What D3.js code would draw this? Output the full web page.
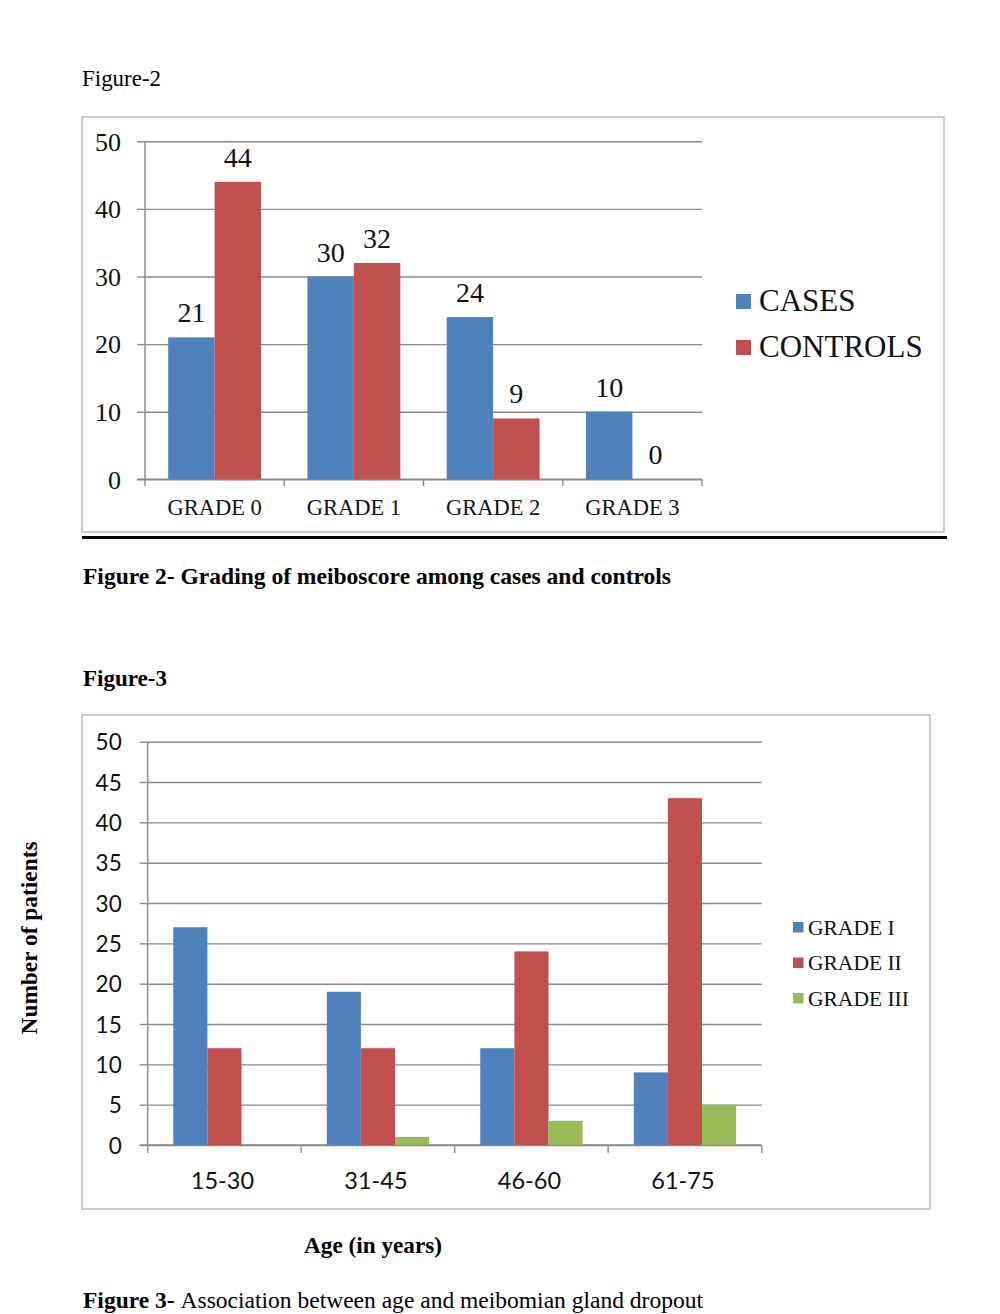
<!DOCTYPE html>
<html lang="en">
<head>
<meta charset="UTF-8">
<title>Figures 2 and 3</title>
<script src="https://d3js.org/d3.v7.min.js"></script>
<style>
    body { margin: 0; background: #fff; }
    .serif { font-family: "Liberation Serif", "Times New Roman", serif; }
    .sans { font-family: Lato, "Open Sans", sans-serif; }
</style>
</head>
<body>
<script>

    // figure 2 data
    var grades = ["GRADE 0", "GRADE 1", "GRADE 2", "GRADE 3"];
    var fig2Series = ["CASES", "CONTROLS"];
    var cases = [21, 30, 24, 10];
    var controls = [44, 32, 9, 0];
    var fig2Ticks = [0, 10, 20, 30, 40, 50];

    // figure 3 data
    var ageGroups = ["15-30", "31-45", "46-60", "61-75"];
    var fig3Series = ["GRADE I", "GRADE II", "GRADE III"];
    var gradeI = [27, 19, 12, 9];
    var gradeII = [12, 12, 24, 43];
    var gradeIII = [0, 1, 3, 5];
    var fig3Ticks = [0, 5, 10, 15, 20, 25, 30, 35, 40, 45, 50];

    var colors = ["#4F81BD", "#C0504D", "#9BBB59"];
    var gridColor = "#8a8a8a";
    var borderColor = "#bdbdbd";

    var svg = d3.select("body").append("svg")
        .attr("width", 1000)
        .attr("height", 1314);

    // ---------- FIGURE 2 ----------
    svg.append("text")
        .attr("class", "serif")
        .attr("x", 82).attr("y", 86)
        .attr("font-size", "23px")
        .attr("textLength", 79).attr("lengthAdjust", "spacingAndGlyphs")
        .text("Figure-2");

    svg.append("rect")
        .attr("x", 82).attr("y", 117)
        .attr("width", 862).attr("height", 415)
        .attr("fill", "none")
        .attr("stroke", borderColor)
        .attr("stroke-width", 1.5);

    var g2 = svg.append("g");

    var y2 = d3.scaleLinear().domain([0, 50]).range([479.3, 141.3]);
    var x2 = d3.scaleBand().domain(grades).range([145, 702]);
    var x2inner = d3.scaleBand().domain(fig2Series)
        .range([0, x2.bandwidth()])
        .paddingInner(0).paddingOuter(0.5);

    // gridlines
    g2.append("g")
        .attr("transform", "translate(145,0)")
        .call(d3.axisLeft(y2).tickValues(fig2Ticks).tickSize(-(702 - 145)).tickFormat(""))
        .call(function (g) { g.select(".domain").remove(); })
        .selectAll("line")
        .attr("stroke", gridColor)
        .attr("stroke-width", 1.4);

    // y axis with labels
    var yAxis2 = g2.append("g")
        .attr("transform", "translate(145,0)")
        .call(d3.axisLeft(y2).tickValues(fig2Ticks).tickSize(8).tickPadding(16));
    yAxis2.select(".domain").attr("stroke", gridColor).attr("stroke-width", 1.4)
        .attr("d", "M0," + y2(50) + "V" + y2(0));
    yAxis2.selectAll("line").attr("stroke", gridColor).attr("stroke-width", 1.4);
    yAxis2.selectAll("text")
        .attr("class", "serif")
        .attr("font-size", "26px")
        .attr("fill", "#111")
        .attr("dy", "0.34em");

    // x axis baseline + boundary ticks
    var bounds2 = grades.map(function (d) { return x2(d); }).concat([x2.range()[1]]);
    g2.append("line")
        .attr("x1", 137).attr("x2", 702)
        .attr("y1", y2(0)).attr("y2", y2(0))
        .attr("stroke", gridColor).attr("stroke-width", 1.4);
    g2.selectAll(".xtick2")
        .data(bounds2)
        .enter()
        .append("line")
        .attr("class", "xtick2")
        .attr("x1", function (d) { return d; })
        .attr("x2", function (d) { return d; })
        .attr("y1", y2(0)).attr("y2", y2(0) + 7)
        .attr("stroke", gridColor).attr("stroke-width", 1.4);

    g2.selectAll(".xlabel2")
        .data(grades)
        .enter()
        .append("text")
        .attr("class", "serif")
        .attr("x", function (d) { return x2(d) + x2.bandwidth() / 2; })
        .attr("y", y2(0) + 36)
        .attr("text-anchor", "middle")
        .attr("font-size", "22.5px")
        .attr("fill", "#111")
        .text(function (d) { return d; });

    // bars
    var fig2Data = [cases, controls];
    fig2Data.forEach(function (vals, s) {
        var name = fig2Series[s];
        g2.selectAll(".bar2-" + s)
            .data(vals)
            .enter()
            .append("rect")
            .attr("class", "bar2-" + s)
            .attr("x", function (d, i) { return x2(grades[i]) + x2inner(name); })
            .attr("width", x2inner.bandwidth())
            .attr("y", function (d) { return y2(d); })
            .attr("height", function (d) { return y2(0) - y2(d); })
            .attr("fill", colors[s]);

        g2.selectAll(".lbl2-" + s)
            .data(vals)
            .enter()
            .append("text")
            .attr("class", "serif")
            .attr("x", function (d, i) { return x2(grades[i]) + x2inner(name) + x2inner.bandwidth() / 2; })
            .attr("y", function (d) { return y2(d) - 15; })
            .attr("text-anchor", "middle")
            .attr("font-size", "28px")
            .attr("fill", "#111")
            .text(function (d) { return d; });
    });

    // legend
    var leg2 = g2.selectAll(".leg2")
        .data(fig2Series)
        .enter()
        .append("g")
        .attr("transform", function (d, i) { return "translate(736," + (294 + i * 46) + ")"; });
    leg2.append("rect")
        .attr("width", 15).attr("height", 15)
        .attr("fill", function (d, i) { return colors[i]; });
    leg2.append("text")
        .attr("class", "serif")
        .attr("x", 23).attr("y", 17)
        .attr("font-size", "31px")
        .attr("fill", "#111")
        .text(function (d) { return d; });

    // black rule under figure 2
    svg.append("rect")
        .attr("x", 82).attr("y", 536)
        .attr("width", 865).attr("height", 3)
        .attr("fill", "#000");

    svg.append("text")
        .attr("class", "serif")
        .attr("x", 83).attr("y", 584)
        .attr("font-size", "24px")
        .attr("font-weight", "bold")
        .attr("textLength", 588).attr("lengthAdjust", "spacingAndGlyphs")
        .text("Figure 2- Grading of meiboscore among cases and controls");

    // ---------- FIGURE 3 ----------
    svg.append("text")
        .attr("class", "serif")
        .attr("x", 83).attr("y", 686)
        .attr("font-size", "24px")
        .attr("font-weight", "bold")
        .attr("textLength", 84).attr("lengthAdjust", "spacingAndGlyphs")
        .text("Figure-3");

    svg.append("rect")
        .attr("x", 82).attr("y", 715)
        .attr("width", 848).attr("height", 494)
        .attr("fill", "none")
        .attr("stroke", borderColor)
        .attr("stroke-width", 1.5);

    var g3 = svg.append("g");

    var y3 = d3.scaleLinear().domain([0, 50]).range([1145, 741.7]);
    var x3 = d3.scaleBand().domain(ageGroups).range([147.7, 761.7]);
    var x3inner = d3.scaleBand().domain(fig3Series)
        .range([0, x3.bandwidth()])
        .paddingInner(0).paddingOuter(0.75);

    g3.append("g")
        .attr("transform", "translate(147.7,0)")
        .call(d3.axisLeft(y3).tickValues(fig3Ticks).tickSize(-(761.7 - 147.7)).tickFormat(""))
        .call(function (g) { g.select(".domain").remove(); })
        .selectAll("line")
        .attr("stroke", gridColor)
        .attr("stroke-width", 1.4);

    var yAxis3 = g3.append("g")
        .attr("transform", "translate(147.7,0)")
        .call(d3.axisLeft(y3).tickValues(fig3Ticks).tickSize(8).tickPadding(18));
    yAxis3.select(".domain").attr("stroke", gridColor).attr("stroke-width", 1.4)
        .attr("d", "M0," + y3(50) + "V" + y3(0));
    yAxis3.selectAll("line").attr("stroke", gridColor).attr("stroke-width", 1.4);
    yAxis3.selectAll("text")
        .attr("class", "sans")
        .attr("font-size", "22.5px")
        .attr("fill", "#111")
        .attr("dy", "0.36em");

    var bounds3 = ageGroups.map(function (d) { return x3(d); }).concat([x3.range()[1]]);
    g3.append("line")
        .attr("x1", 139.7).attr("x2", 761.7)
        .attr("y1", y3(0)).attr("y2", y3(0))
        .attr("stroke", gridColor).attr("stroke-width", 1.4);
    g3.selectAll(".xtick3")
        .data(bounds3)
        .enter()
        .append("line")
        .attr("class", "xtick3")
        .attr("x1", function (d) { return d; })
        .attr("x2", function (d) { return d; })
        .attr("y1", y3(0)).attr("y2", y3(0) + 8)
        .attr("stroke", gridColor).attr("stroke-width", 1.4);

    g3.selectAll(".xlabel3")
        .data(ageGroups)
        .enter()
        .append("text")
        .attr("class", "sans")
        .attr("x", function (d) { return x3(d) + x3.bandwidth() / 2 - 2; })
        .attr("y", y3(0) + 44)
        .attr("text-anchor", "middle")
        .attr("font-size", "23.5px")
        .attr("fill", "#111")
        .text(function (d) { return d; });

    var fig3Data = [gradeI, gradeII, gradeIII];
    fig3Data.forEach(function (vals, s) {
        var name = fig3Series[s];
        g3.selectAll(".bar3-" + s)
            .data(vals)
            .enter()
            .append("rect")
            .attr("class", "bar3-" + s)
            .attr("x", function (d, i) { return x3(ageGroups[i]) + x3inner(name); })
            .attr("width", x3inner.bandwidth())
            .attr("y", function (d) { return y3(d); })
            .attr("height", function (d) { return y3(0) - y3(d); })
            .attr("fill", colors[s]);
    });

    var leg3 = g3.selectAll(".leg3")
        .data(fig3Series)
        .enter()
        .append("g")
        .attr("transform", function (d, i) { return "translate(793," + (922 + i * 35.5) + ")"; });
    leg3.append("rect")
        .attr("width", 10.5).attr("height", 10.5)
        .attr("fill", function (d, i) { return colors[i]; });
    leg3.append("text")
        .attr("class", "serif")
        .attr("x", 15).attr("y", 12.5)
        .attr("font-size", "21.5px")
        .attr("fill", "#111")
        .text(function (d) { return d; });

    // axis titles
    svg.append("text")
        .attr("class", "serif")
        .attr("transform", "translate(37,938) rotate(-90)")
        .attr("text-anchor", "middle")
        .attr("font-size", "23px")
        .attr("font-weight", "bold")
        .attr("textLength", 193).attr("lengthAdjust", "spacingAndGlyphs")
        .text("Number of patients");

    svg.append("text")
        .attr("class", "serif")
        .attr("x", 373).attr("y", 1253)
        .attr("text-anchor", "middle")
        .attr("font-size", "23px")
        .attr("font-weight", "bold")
        .attr("textLength", 138).attr("lengthAdjust", "spacingAndGlyphs")
        .text("Age (in years)");

    var cap3 = svg.append("text")
        .attr("class", "serif")
        .attr("x", 83).attr("y", 1308)
        .attr("font-size", "23px")
        .attr("textLength", 620).attr("lengthAdjust", "spacingAndGlyphs");
    cap3.append("tspan").attr("font-weight", "bold").text("Figure 3- ");
    cap3.append("tspan").text("Association between age and meibomian gland dropout");

</script>
</body>
</html>
